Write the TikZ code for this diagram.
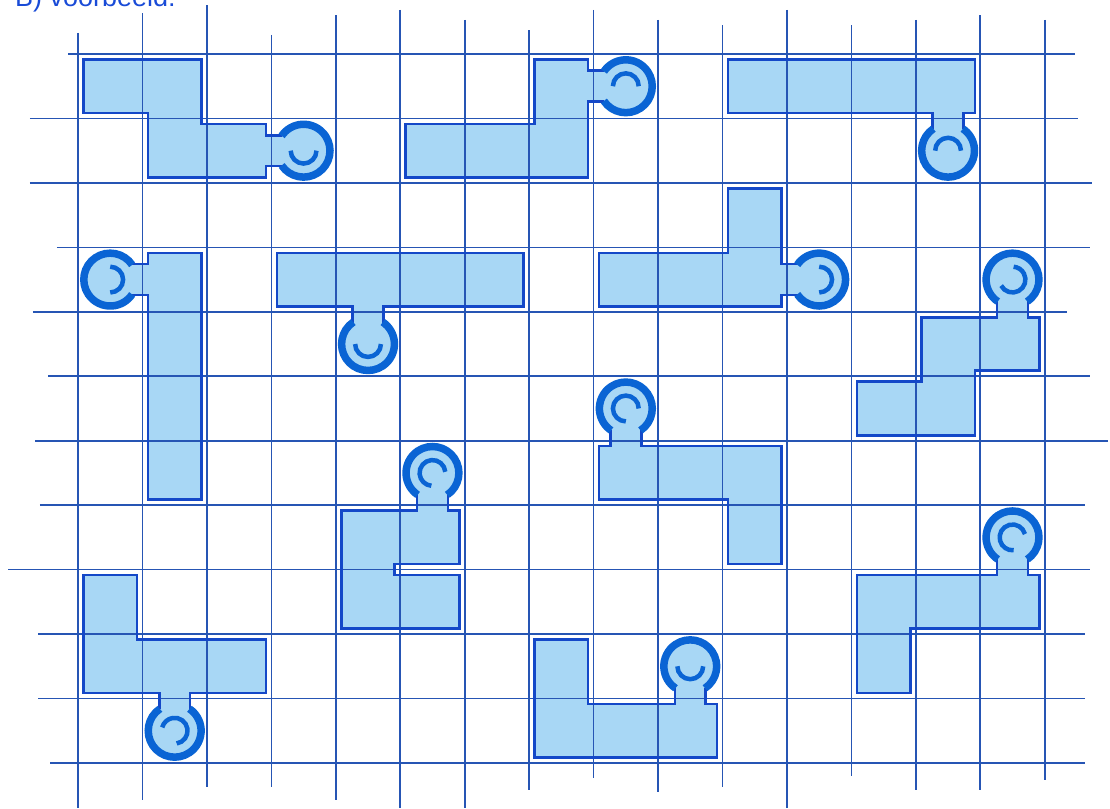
\documentclass[tikz,border=0pt]{standalone}
\usepackage{fontspec}
\setmainfont{Liberation Sans}
\definecolor{gridc}{RGB}{38,85,180}
\definecolor{fillc}{RGB}{168,215,245}
\definecolor{linec}{RGB}{20,72,200}
\definecolor{ringc}{RGB}{10,100,212}
\definecolor{textc}{RGB}{25,75,215}
\tikzset{
  gridline/.style={draw=gridc, line width=1.7pt},
  piecefill/.style={fill=fillc},
  pieceline/.style={draw=linec, line width=2.6pt, line join=miter},
  ringline/.style={draw=ringc, line width=7.5pt},
  smileline/.style={draw=ringc, line width=4.5pt},
}
% #1 outline path, #2 #3 knob centre, #4 direction to piece, #5 #6 smile arc (visual angles)
\newcommand\pzfill[6]{\fill[piecefill] #1 -- (#2,#3) -- cycle; \fill[piecefill] (#2,#3) circle (0.45);}
\newcommand\pzline[6]{\draw[pieceline] #1;
  \draw[ringline] ({#2+0.41*cos(-(#4+34))},{#3+0.41*sin(-(#4+34))}) arc[start angle={-(#4+34)}, end angle={-(#4+326)}, radius=0.41];
  \draw[smileline] ({#2+0.2*cos(-(#5))},{#3+0.2*sin(-(#5))}) arc[start angle={-(#5)}, end angle={-(#6)}, radius=0.2];}
\newcommand\pzall{%
\pz{(3.168,1.26) -- (2.915,1.26) -- (2.915,1.085) -- (1.915,1.085) -- (1.915,0.085) -- (0.085,0.085) -- (0.085,0.915) -- (1.085,0.915) -- (1.085,1.915) -- (2.915,1.915) -- (2.915,1.74) -- (3.168,1.74)}{3.5}{1.5}{180}{180}{360}%
\pz{(8.168,0.26) -- (7.915,0.26) -- (7.915,0.085) -- (7.085,0.085) -- (7.085,1.085) -- (5.085,1.085) -- (5.085,1.915) -- (7.915,1.915) -- (7.915,0.74) -- (8.168,0.74)}{8.5}{0.5}{180}{0}{180}%
\pz{(13.26,1.168) -- (13.26,0.915) -- (10.085,0.915) -- (10.085,0.085) -- (13.915,0.085) -- (13.915,0.915) -- (13.74,0.915) -- (13.74,1.168)}{13.5}{1.5}{90}{0}{180}%
\pz{(0.832,3.26) -- (1.085,3.26) -- (1.085,3.085) -- (1.915,3.085) -- (1.915,6.915) -- (1.085,6.915) -- (1.085,3.74) -- (0.832,3.74)}{0.5}{3.5}{0}{-90}{90}%
\pz{(4.26,4.168) -- (4.26,3.915) -- (3.085,3.915) -- (3.085,3.085) -- (6.915,3.085) -- (6.915,3.915) -- (4.74,3.915) -- (4.74,4.168)}{4.5}{4.5}{90}{180}{360}%
\pz{(11.168,3.26) -- (10.915,3.26) -- (10.915,2.085) -- (10.085,2.085) -- (10.085,3.085) -- (8.085,3.085) -- (8.085,3.915) -- (10.915,3.915) -- (10.915,3.74) -- (11.168,3.74)}{11.5}{3.5}{180}{-90}{90}%
\pz{(14.26,3.832) -- (14.26,4.085) -- (13.085,4.085) -- (13.085,5.085) -- (12.085,5.085) -- (12.085,5.915) -- (13.915,5.915) -- (13.915,4.915) -- (14.915,4.915) -- (14.915,4.085) -- (14.74,4.085) -- (14.74,3.832)}{14.5}{3.5}{270}{208}{445}%
\pz{(5.26,6.832) -- (5.26,7.085) -- (4.085,7.085) -- (4.085,8.915) -- (5.915,8.915) -- (5.915,8.085) -- (4.915,8.085) -- (4.915,7.915) -- (5.915,7.915) -- (5.915,7.085) -- (5.74,7.085) -- (5.74,6.832)}{5.5}{6.5}{270}{5}{265}%
\pz{(8.26,5.832) -- (8.26,6.085) -- (8.085,6.085) -- (8.085,6.915) -- (10.085,6.915) -- (10.085,7.915) -- (10.915,7.915) -- (10.915,6.085) -- (8.74,6.085) -- (8.74,5.832)}{8.5}{5.5}{270}{0}{270}%
\pz{(14.26,7.832) -- (14.26,8.085) -- (12.085,8.085) -- (12.085,9.915) -- (12.915,9.915) -- (12.915,8.915) -- (14.915,8.915) -- (14.915,8.085) -- (14.74,8.085) -- (14.74,7.832)}{14.5}{7.5}{270}{15}{275}%
\pz{(1.26,10.168) -- (1.26,9.915) -- (0.085,9.915) -- (0.085,8.085) -- (0.915,8.085) -- (0.915,9.085) -- (2.915,9.085) -- (2.915,9.915) -- (1.74,9.915) -- (1.74,10.168)}{1.5}{10.5}{90}{-81}{165}%
\pz{(9.26,9.832) -- (9.26,10.085) -- (7.915,10.085) -- (7.915,9.085) -- (7.085,9.085) -- (7.085,10.915) -- (9.915,10.915) -- (9.915,10.085) -- (9.74,10.085) -- (9.74,9.832)}{9.5}{9.5}{270}{180}{360}%
}
\begin{document}
\begin{tikzpicture}[x=64.45pt, y=-64.45pt]
\useasboundingbox (-1.2102,-0.8379) rectangle (16.0124,11.699);
\clip (-1.2102,-0.8379) rectangle (16.0124,11.699);
\fill[white] (-1.2102,-0.8379) rectangle (16.0124,11.699);
\node[anchor=base west, text=textc, font=\fontsize{27}{30}\selectfont, inner sep=0pt] (title) at (-0.9775,-0.7448) {B) voorbeeld:};
\let\pz\pzfill
\pzall
\foreach \c/\a/\b in {0/-0.326/11.7, 1/-0.636/11.58, 2/-0.76/11.38, 3/-0.295/11.38, 4/-0.605/11.58, 5/-0.683/11.7, 6/-0.528/11.7, 7/-0.372/11.42, 8/-0.683/11.23, 9/-0.528/11.45, 10/-0.45/11.37, 11/-0.683/11.7, 12/-0.45/11.2, 13/-0.528/11.42, 14/-0.605/11.42, 15/-0.528/11.26}
  \draw[gridline] (\c,\a) -- (\c,\b);
\foreach \r/\a/\b in {0/-0.155/15.47, 1/-0.745/15.52, 2/-0.745/15.73, 3/-0.326/15.7, 4/-0.7/15.35, 5/-0.465/15.7, 6/-0.667/15.98, 7/-0.59/15.62, 8/-1.086/15.7, 9/-0.62/15.62, 10/-0.62/15.62, 11/-0.434/15.62}
  \draw[gridline] (\a,\r) -- (\b,\r);
\let\pz\pzline
\pzall
\end{tikzpicture}
\end{document}
